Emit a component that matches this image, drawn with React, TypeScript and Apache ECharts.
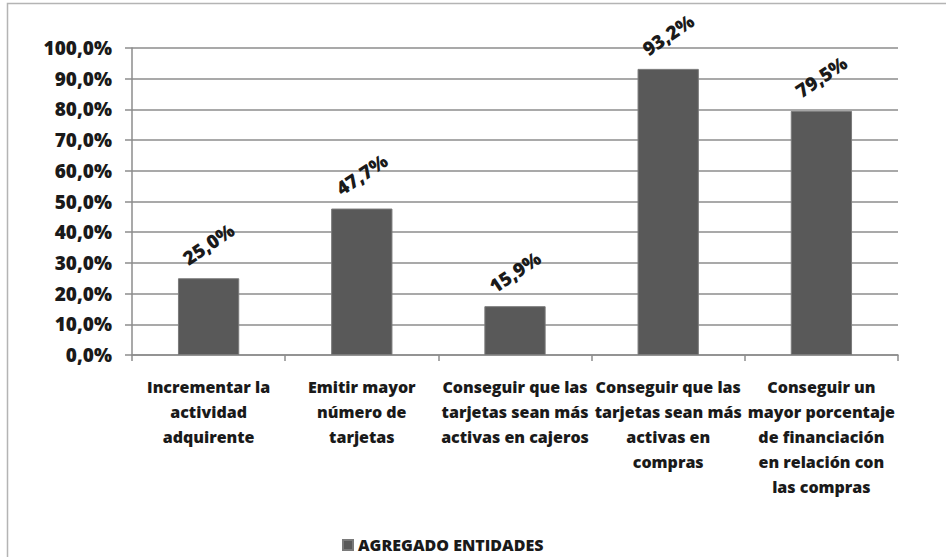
import React, { useEffect, useRef } from "react";
import * as echarts from "echarts";

const categories = [
  "Incrementar la\nactividad\nadquirente",
  "Emitir mayor\nnúmero de\ntarjetas",
  "Conseguir que las\ntarjetas sean más\nactivas en cajeros",
  "Conseguir que las\ntarjetas sean más\nactivas en\ncompras",
  "Conseguir un\nmayor porcentaje\nde financiación\nen relación con\nlas compras",
];
const values = [25.0, 47.7, 15.9, 93.2, 79.5];
const seriesName = "AGREGADO ENTIDADES";

const fmt = (v: number) => v.toFixed(1).replace(".", ",") + "%";

export default function App() {
  const ref = useRef<HTMLDivElement>(null);
  useEffect(() => {
    if (!ref.current) return;
    const chart = echarts.init(ref.current, undefined, { renderer: "svg" });
    const font = "Open Sans";
    const weight = 800;
    chart.setOption({
      animation: false,
      backgroundColor: "#ffffff",
      graphic: [
        {
          type: "rect",
          shape: { x: 7.5, y: 3.5, width: 960, height: 580 },
          style: { fill: "none", stroke: "#b4b4b4", lineWidth: 1.5 },
          silent: true,
        },
      ],
      grid: { left: 132, right: 48, top: 48, bottom: 202 },
      legend: {
        left: 337,
        top: 532,
        icon: "rect",
        itemWidth: 10,
        itemHeight: 10,
        itemGap: 5,
        textStyle: { fontFamily: font, fontWeight: weight, fontSize: 16, color: "#1a1a1a" },
        data: [seriesName],
      },
      xAxis: {
        type: "category",
        data: categories,
        axisLine: { lineStyle: { color: "#8c8c8c", width: 1.5 } },
        axisTick: { show: true, length: 6, lineStyle: { color: "#8c8c8c", width: 1.5 } },
        axisLabel: {
          interval: 0,
          margin: 19,
          fontFamily: font,
          fontWeight: weight,
          fontSize: 16,
          lineHeight: 25,
          color: "#1a1a1a",
        },
      },
      yAxis: {
        type: "value",
        min: 0,
        max: 100,
        interval: 10,
        axisLine: { show: true, lineStyle: { color: "#8c8c8c", width: 1.5 } },
        axisTick: { show: true, length: 7, lineStyle: { color: "#8c8c8c", width: 1.5 } },
        splitLine: { lineStyle: { color: "#8c8c8c", width: 1.5 } },
        axisLabel: {
          margin: 20,
          formatter: (v: number) => fmt(v),
          fontFamily: font,
          fontWeight: weight,
          fontSize: 19,
          color: "#1a1a1a",
        },
      },
      series: [
        {
          name: seriesName,
          type: "bar",
          data: values,
          barWidth: "40%",
          itemStyle: { color: "#595959", borderColor: "#7a7a7a", borderWidth: 1 },
          label: {
            show: true,
            position: "top",
            distance: 34,
            rotate: 34,
            align: "center",
            verticalAlign: "middle",
            formatter: (p: any) => fmt(p.value),
            fontFamily: font,
            fontWeight: weight,
            fontSize: 19,
            color: "#1a1a1a",
          },
        },
      ],
    });
    return () => chart.dispose();
  }, []);
  return (
    <div
      ref={ref}
      style={{ position: "fixed", left: 0, top: 0, width: 946, height: 557 }}
    />
  );
}
